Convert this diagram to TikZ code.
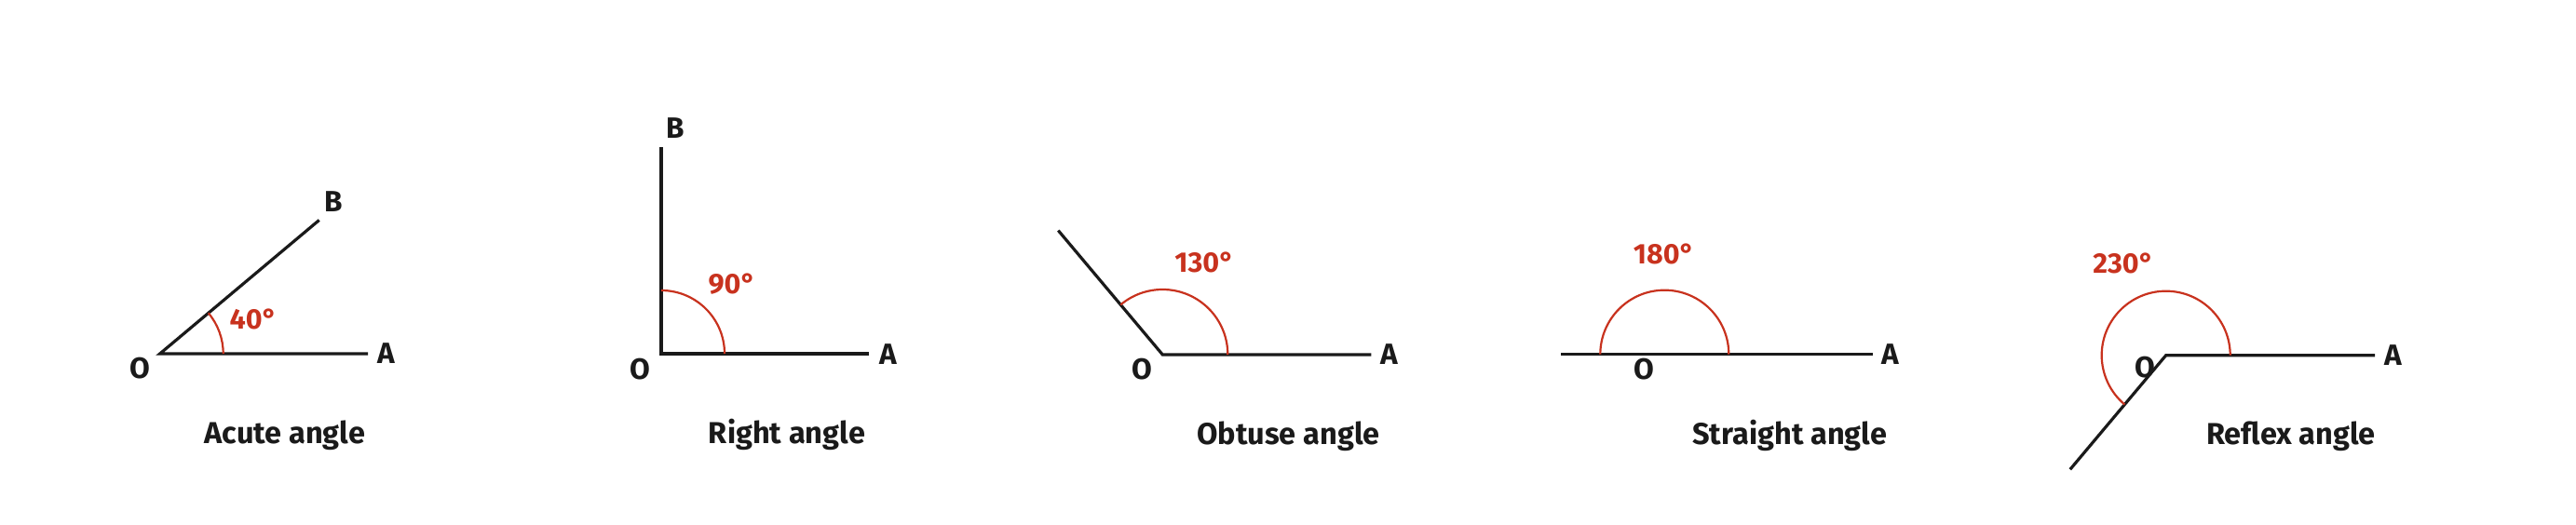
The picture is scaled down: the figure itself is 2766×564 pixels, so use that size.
\documentclass[tikz,border=0pt]{standalone}
\usepackage{fontspec}
\setmainfont{Fira Sans}
\definecolor{angred}{HTML}{C8321E}
\definecolor{ink}{HTML}{1A1A1A}
\begin{document}
\begin{tikzpicture}[x=1pt,y=1pt,
  ray/.style={draw=ink,line width=3.2pt},
  arcline/.style={draw=angred,line width=2.2pt},
  pt/.style={font=\fontsize{31.5}{31.5}\selectfont\bfseries,text=ink,inner sep=0pt},
  deg/.style={font=\fontsize{30.5}{30.5}\selectfont\bfseries,text=angred,inner sep=0pt},
  ttl/.style={font=\fontsize{32.5}{32.5}\selectfont\bfseries,text=ink,inner sep=0pt}]
\useasboundingbox[fill=white] (0,0) rectangle (2766,564);

% Acute
\coordinate (O1) at (171.7,184);
\coordinate (A1) at (395,184);
\coordinate (B1) at (342.7,327.5);
\draw[ray,line join=miter] (A1) -- (O1) -- (B1);
\draw[arcline] (O1) ++(0:68) arc[start angle=0,end angle=40,radius=68];
\node[pt] (lO1) at (150,168) {O};
\node[pt] (lA1) at (415,184) {A};
\node[pt] (lB1) at (358,347) {B};
\node[deg] (d1) at (272,221) {40°};
\node[ttl] (t1) at (306,96) {Acute angle};

% Right
\coordinate (O2) at (710,184);
\coordinate (A2) at (933.3,184);
\coordinate (B2) at (710,406.3);
\draw[ray] (A2) -- (O2) -- (B2);
\draw[arcline] (O2) ++(0:68) arc[start angle=0,end angle=90,radius=68];
\node[pt] (lO2) at (687.3,167.3) {O};
\node[pt] (lA2) at (953.3,183.3) {A};
\node[pt] (lB2) at (725,426.7) {B};
\node[deg] (d2) at (786,259) {90°};
\node[ttl] (t2) at (845,97.3) {Right angle};

% Obtuse
\coordinate (O3) at (1248.3,183);
\coordinate (A3) at (1472.3,183);
\coordinate (B3) at (1136.3,316.4);
\draw[ray] (A3) -- (O3) -- (B3);
\draw[arcline] (O3) ++(0:70) arc[start angle=0,end angle=130,radius=70];
\node[pt] (lO3) at (1226.7,167.3) {O};
\node[pt] (lA3) at (1491.7,183) {A};
\node[deg] (d3) at (1293.3,282.3) {130°};
\node[ttl] (t3) at (1383.3,95.7) {Obtuse angle};

% Straight
\coordinate (O4) at (1787.3,183.3);
\coordinate (A4) at (2010.7,183.3);
\coordinate (B4) at (1676,183.3);
\draw[ray] (B4) -- (O4) -- (A4);
\draw[arcline] (O4) ++(0:69) arc[start angle=0,end angle=180,radius=69];
\node[pt] (lO4) at (1765,167.3) {O};
\node[pt] (lA4) at (2030,183.3) {A};
\node[deg] (d4) at (1786.7,290.7) {180°};
\node[ttl] (t4) at (1921.7,95.7) {Straight angle};

% Reflex
\coordinate (O5) at (2325.7,182.3);
\coordinate (A5) at (2550,182.3);
\coordinate (B5) at (2222.8,59.7);
\draw[ray] (A5) -- (O5) -- (B5);
\draw[arcline] (O5) ++(0:69) arc[start angle=0,end angle=230,radius=69];
\node[pt] (lO5) at (2303.3,169) {O};
\node[pt] (lA5) at (2569.3,182.3) {A};
\node[deg] (d5) at (2280,281.3) {230°};
\node[ttl] (t5) at (2460,95.7) {Reflex angle};
\end{tikzpicture}
\end{document}
